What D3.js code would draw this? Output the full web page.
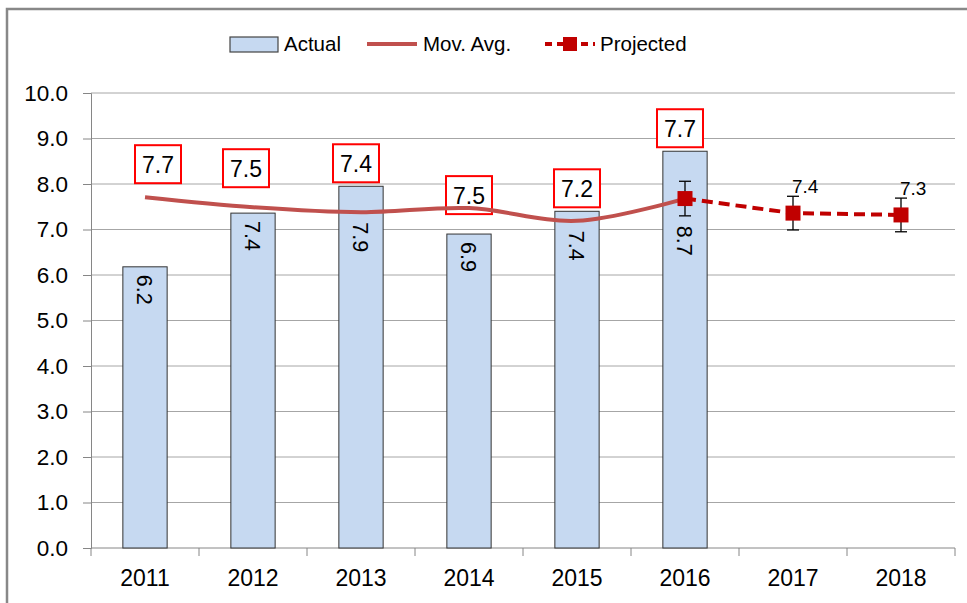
<!DOCTYPE html>
<html lang="en">
<head>
    <meta charset="UTF-8">
    <title>Actual vs projected</title>
    <script src="https://cdn.jsdelivr.net/npm/d3@7"></script>
    <style>
        body { margin: 0; background: #fff; }
        #graphDiv { width: 967px; height: 603px; }
        text { font-family: "Liberation Sans", Arial, sans-serif; fill: #000; }
    </style>
</head>
<body>
<div id="graphDiv"></div>
<script>
    // chart data
    var years = ["2011", "2012", "2013", "2014", "2015", "2016", "2017", "2018"];
    var actual = [6.18, 7.36, 7.95, 6.9, 7.4, 8.72, null, null];
    var actualLabels = ["6.2", "7.4", "7.9", "6.9", "7.4", "8.7", "", ""];
    var movAvg = [7.71, 7.49, 7.38, 7.47, 7.19, 7.68, null, null];
    var movAvgLabels = ["7.7", "7.5", "7.4", "7.5", "7.2", "7.7", "", ""];
    var projected = [null, null, null, null, null, 7.68, 7.36, 7.32];
    var projectedErr = [null, null, null, null, null, 0.38, 0.37, 0.37];
    var projectedLabels = ["", "", "", "", "", "", "7.4", "7.3"];
    var yTicks = [0, 1, 2, 3, 4, 5, 6, 7, 8, 9, 10];

    function drawChart() {
        var W = 967, H = 603;
        var left = 91, right = 955, top = 93, bottom = 548;

        var svg = d3.select("#graphDiv").append("svg")
            .attr("width", W)
            .attr("height", H);

        // outer chart border (only top/left visible in picture)
        svg.append("rect")
            .attr("x", 7).attr("y", 9)
            .attr("width", W + 20).attr("height", H + 20)
            .style("fill", "#fff")
            .style("stroke", "#888")
            .style("stroke-width", 2.5);

        var x = d3.scaleBand().domain(years).range([left, right]);
        var y = d3.scaleLinear().domain([0, 10]).range([bottom, top]);
        var cx = function (i) { return x(years[i]) + x.bandwidth() / 2; };

        // gridlines
        svg.append("g").selectAll("line")
            .data(yTicks.filter(function (d) { return d > 0; }))
            .enter().append("line")
            .attr("x1", left).attr("x2", right)
            .attr("y1", function (d) { return y(d); })
            .attr("y2", function (d) { return y(d); })
            .style("stroke", "#a6a6a6")
            .style("stroke-width", 1);

        // y axis
        var yAxis = svg.append("g")
            .attr("transform", "translate(" + left + ",0)")
            .call(d3.axisLeft(y).tickValues(yTicks).tickFormat(d3.format(".1f")).tickSize(8).tickPadding(15));
        yAxis.selectAll("path, line").style("stroke", "#868686");
        yAxis.selectAll("text").style("font-size", "22.5px").style("font-family", "Liberation Sans, Arial, sans-serif").attr("fill", "#000");

        // x axis
        var xAxis = svg.append("g")
            .attr("transform", "translate(0," + bottom + ")")
            .call(d3.axisBottom(x).tickSize(0).tickPadding(22));
        xAxis.select("path").style("stroke", "#868686").attr("d", "M" + left + ",0H" + right);
        xAxis.selectAll("text").style("font-size", "23px").style("font-family", "Liberation Sans, Arial, sans-serif").attr("fill", "#000");
        // category boundary ticks
        svg.append("g").selectAll("line")
            .data(years.concat(["end"]))
            .enter().append("line")
            .attr("x1", function (d, i) { return left + i * x.bandwidth(); })
            .attr("x2", function (d, i) { return left + i * x.bandwidth(); })
            .attr("y1", bottom).attr("y2", bottom + 8)
            .style("stroke", "#868686");

        // bars
        var barW = x.bandwidth() * 0.41;
        var barData = actual.map(function (v, i) { return {v: v, i: i}; })
            .filter(function (d) { return d.v != null; });
        svg.append("g").selectAll("rect")
            .data(barData).enter().append("rect")
            .attr("x", function (d) { return cx(d.i) - barW / 2; })
            .attr("y", function (d) { return y(d.v); })
            .attr("width", barW)
            .attr("height", function (d) { return y(0) - y(d.v); })
            .style("fill", "#c6d9f1")
            .style("stroke", "#333")
            .style("stroke-width", 1);

        // moving average line
        var maData = movAvg.map(function (v, i) { return {v: v, i: i}; })
            .filter(function (d) { return d.v != null; });
        var maLine = d3.line()
            .x(function (d) { return cx(d.i); })
            .y(function (d) { return y(d.v); })
            .curve(d3.curveCatmullRom.alpha(0.5));

        // bar value labels (rotated, pushed below the line when it crosses)
        svg.append("g").selectAll("text")
            .data(barData).enter().append("text")
            .attr("transform", function (d) {
                var top0 = y(d.v);
                var start = top0 + 8;
                var obst = null;
                if (projectedErr[d.i] != null) obst = y(projected[d.i] - projectedErr[d.i]);
                else if (movAvg[d.i] != null) obst = y(movAvg[d.i]);
                if (obst != null && obst > top0) start = Math.max(start, obst + 10);
                return "translate(" + cx(d.i) + "," + start + ") rotate(90)";
            })
            .attr("dy", "0.35em")
            .style("font-size", "21.5px")
            .text(function (d) { return actualLabels[d.i]; });

        // moving average label boxes
        var nudge = [[13, -10], [-7, -16], [-5, 0], [0, 10], [0, 0], [-5, 0]];
        var boxW = 46, boxH = 38;
        var boxes = svg.append("g").selectAll("g")
            .data(maData).enter().append("g")
            .attr("transform", function (d) {
                var b = Math.min(y(d.v), actual[d.i] != null ? y(actual[d.i]) : 1e9) - 4 + nudge[d.i][1];
                return "translate(" + (cx(d.i) + nudge[d.i][0]) + "," + (b - boxH / 2) + ")";
            });
        boxes.append("rect")
            .attr("x", -boxW / 2).attr("y", -boxH / 2)
            .attr("width", boxW).attr("height", boxH)
            .style("fill", "#fff")
            .style("stroke", "#ff0000")
            .style("stroke-width", 2);

        svg.append("path")
            .datum(maData)
            .attr("d", maLine)
            .style("fill", "none")
            .style("stroke", "#c0504d")
            .style("stroke-width", 4);

        boxes.append("text")
            .attr("text-anchor", "middle")
            .attr("dy", "0.37em")
            .style("font-size", "23px")
            .text(function (d) { return movAvgLabels[d.i]; });

        // projected series
        var pData = projected.map(function (v, i) { return {v: v, i: i, e: projectedErr[i]}; })
            .filter(function (d) { return d.v != null; });
        var eb = svg.append("g").selectAll("g")
            .data(pData).enter().append("g")
            .style("stroke", "#000").style("stroke-width", 1.3);
        eb.append("line")
            .attr("x1", function (d) { return cx(d.i); })
            .attr("x2", function (d) { return cx(d.i); })
            .attr("y1", function (d) { return y(d.v + d.e); })
            .attr("y2", function (d) { return y(d.v - d.e); });
        [1, -1].forEach(function (s) {
            eb.append("line")
                .attr("x1", function (d) { return cx(d.i) - 6; })
                .attr("x2", function (d) { return cx(d.i) + 6; })
                .attr("y1", function (d) { return y(d.v + s * d.e); })
                .attr("y2", function (d) { return y(d.v + s * d.e); });
        });

        svg.append("path")
            .datum(pData)
            .attr("d", d3.line().x(function (d) { return cx(d.i); }).y(function (d) { return y(d.v); }))
            .style("fill", "none")
            .style("stroke", "#c00000")
            .style("stroke-width", 4)
            .style("stroke-dasharray", "11,6");

        svg.append("g").selectAll("rect")
            .data(pData).enter().append("rect")
            .attr("x", function (d) { return cx(d.i) - 7.5; })
            .attr("y", function (d) { return y(d.v) - 7.5; })
            .attr("width", 15).attr("height", 15)
            .style("fill", "#c00000");

        svg.append("g").selectAll("text")
            .data(pData.filter(function (d) { return projectedLabels[d.i] != ""; }))
            .enter().append("text")
            .attr("x", function (d) { return cx(d.i) - 1; })
            .attr("y", function (d) { return y(d.v) - 20; })
            .style("font-size", "19px")
            .text(function (d) { return projectedLabels[d.i]; });

        // legend
        var lg = svg.append("g").style("font-size", "20.5px");
        lg.append("rect")
            .attr("x", 230).attr("y", 37).attr("width", 48).attr("height", 15)
            .style("fill", "#c6d9f1").style("stroke", "#444").style("stroke-width", 1.2);
        lg.append("text").attr("x", 284).attr("y", 51).text("Actual");
        lg.append("line")
            .attr("x1", 367).attr("x2", 417).attr("y1", 44).attr("y2", 44)
            .style("stroke", "#c0504d").style("stroke-width", 4);
        lg.append("text").attr("x", 423).attr("y", 51).text("Mov. Avg.");
        lg.append("line")
            .attr("x1", 545).attr("x2", 595).attr("y1", 44).attr("y2", 44)
            .style("stroke", "#c00000").style("stroke-width", 4)
            .style("stroke-dasharray", "7,5");
        lg.append("rect")
            .attr("x", 563).attr("y", 37).attr("width", 14).attr("height", 14)
            .style("fill", "#c00000");
        lg.append("text").attr("x", 600).attr("y", 51).text("Projected");
    }

    drawChart();
</script>
</body>
</html>
